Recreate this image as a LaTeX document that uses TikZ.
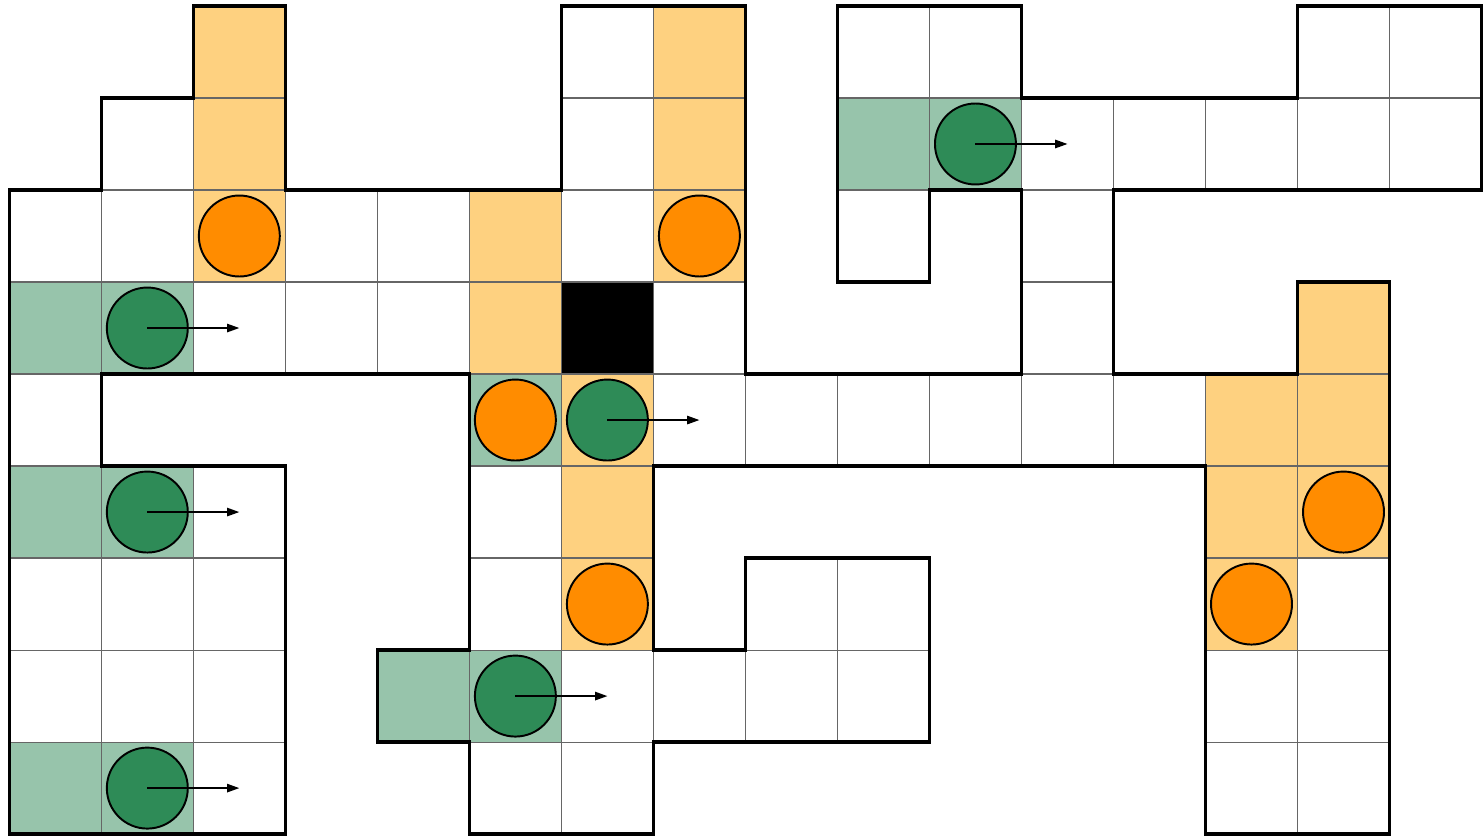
\documentclass[tikz,border=0pt]{standalone}
\usetikzlibrary{arrows.meta}
\definecolor{orangeclair}{RGB}{254,209,128}
\definecolor{orangefonce}{RGB}{255,140,0}
\definecolor{vertclair}{RGB}{151,196,171}
\definecolor{vertfonce}{RGB}{46,139,87}
\begin{document}
\begin{tikzpicture}[x=1cm, y=-1cm,
    grille/.style={draw=black!60, line width=0.35pt},
    bord/.style={draw=black, line width=1pt, line join=miter},
    jeton/.style={draw=black, line width=0.6pt},
    fleche/.style={-{Triangle[length=3.8pt,width=2.6pt]}, line width=0.45pt}]
    \useasboundingbox (-0.101,-0.065) rectangle (16.016,9.022);

    % Cases orange (zones visées)
    \foreach \c/\r in {2/0,2/1,2/2,7/0,7/1,7/2,5/2,5/3,6/4,6/5,6/6,14/3,13/4,14/4,13/5,14/5,13/6}
        \fill[orangeclair] (\c,\r) rectangle ++(1,1);

    % Cases vertes (départs)
    \foreach \c/\r in {9/1,10/1,0/3,1/3,5/4,0/5,1/5,4/7,5/7,0/8,1/8}
        \fill[vertclair] (\c,\r) rectangle ++(1,1);

    % Obstacle
    \fill[black] (6,3) rectangle ++(1,1);

    % Grille fine, ligne par ligne
    \foreach \r/\cols in {0/{2,6,7,9,10,14,15}, 1/{1,2,6,7,9,10,11,12,13,14,15},
                          2/{0,1,2,3,4,5,6,7,9,11}, 3/{0,1,2,3,4,5,6,7,11,14},
                          4/{0,5,6,7,8,9,10,11,12,13,14}, 5/{0,1,2,5,6,13,14},
                          6/{0,1,2,5,6,8,9,13,14}, 7/{0,1,2,4,5,6,7,8,9,13,14},
                          8/{0,1,2,5,6,13,14}}
        \foreach \c in \cols
            \draw[grille] (\c,\r) rectangle ++(1,1);

    % Contour du labyrinthe
    \draw[bord] (0,2) -- (1,2) -- (1,1) -- (2,1) -- (2,0) -- (3,0) -- (3,2) -- (6,2)
        -- (6,0) -- (8,0) -- (8,4) -- (11,4) -- (11,2) -- (10,2) -- (10,3) -- (9,3)
        -- (9,0) -- (11,0) -- (11,1) -- (14,1) -- (14,0) -- (16,0) -- (16,2) -- (12,2)
        -- (12,4) -- (14,4) -- (14,3) -- (15,3) -- (15,9) -- (13,9) -- (13,5) -- (7,5)
        -- (7,7) -- (8,7) -- (8,6) -- (10,6) -- (10,8) -- (7,8) -- (7,9) -- (5,9)
        -- (5,8) -- (4,8) -- (4,7) -- (5,7) -- (5,4) -- (1,4) -- (1,5) -- (3,5)
        -- (3,9) -- (0,9) -- cycle;

    % Jetons orange
    \foreach \c/\r in {2/2,7/2,5/4,6/6,14/5,13/6}
        \filldraw[jeton, fill=orangefonce] (\c+0.5,\r+0.5) circle (0.44);

    % Agents et leur direction
    \coordinate (A1) at (10.5,1.5);  \coordinate (D1) at (11.5,1.5);
    \coordinate (A2) at (1.5,3.5);   \coordinate (D2) at (2.5,3.5);
    \coordinate (A3) at (6.5,4.5);   \coordinate (D3) at (7.5,4.5);
    \coordinate (A4) at (1.5,5.5);   \coordinate (D4) at (2.5,5.5);
    \coordinate (A5) at (5.5,7.5);   \coordinate (D5) at (6.5,7.5);
    \coordinate (A6) at (1.5,8.5);   \coordinate (D6) at (2.5,8.5);

    \foreach \i in {1,...,6} {
        \filldraw[jeton, fill=vertfonce] (A\i) circle (0.44);
        \draw[fleche] (A\i) -- (D\i);
    }
\end{tikzpicture}
\end{document}
